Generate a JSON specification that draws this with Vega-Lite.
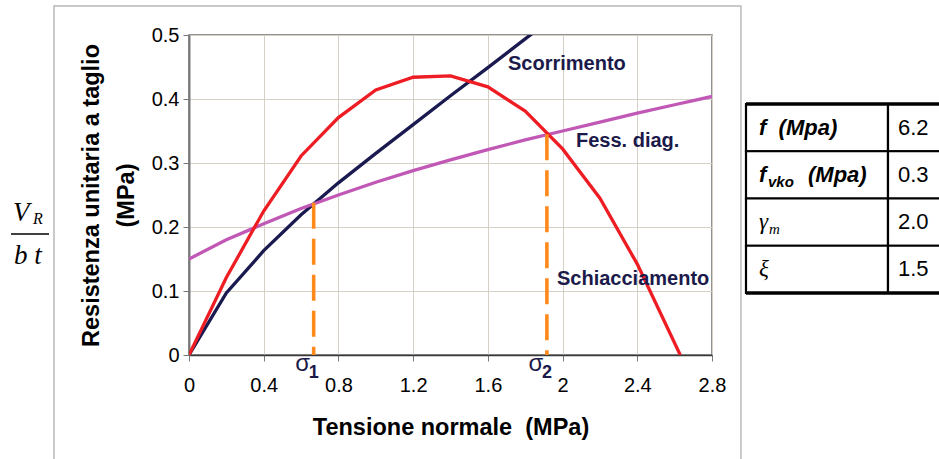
{
  "$schema": "https://vega.github.io/schema/vega-lite/v6.json",
  "background": "white",
  "padding": {"left": 9, "top": 4, "right": 0, "bottom": 0},
  "autosize": {"type": "pad"},
  "config": {"font": "Liberation Sans", "view": {"stroke": null}},
  "bounds": "flush",
  "spacing": 34,
  "hconcat": [
    {
      "width": 523,
      "height": 320,
      "view": {"stroke": "#6e6e6e", "strokeWidth": 1.5},
      "layer": [
        {
          "data": {"values": [
            {"s": "Scorrimento", "x": 0, "y": 0},
            {"s": "Scorrimento", "x": 0.2, "y": 0.097},
            {"s": "Scorrimento", "x": 0.4, "y": 0.163},
            {"s": "Scorrimento", "x": 0.6, "y": 0.219},
            {"s": "Scorrimento", "x": 0.8, "y": 0.269},
            {"s": "Scorrimento", "x": 1.0, "y": 0.315},
            {"s": "Scorrimento", "x": 1.2, "y": 0.36},
            {"s": "Scorrimento", "x": 1.4, "y": 0.405},
            {"s": "Scorrimento", "x": 1.6, "y": 0.449},
            {"s": "Scorrimento", "x": 1.8, "y": 0.494},
            {"s": "Scorrimento", "x": 2.0, "y": 0.538},
            {"s": "Fess. diag.", "x": 0, "y": 0.15},
            {"s": "Fess. diag.", "x": 0.2, "y": 0.18},
            {"s": "Fess. diag.", "x": 0.4, "y": 0.205},
            {"s": "Fess. diag.", "x": 0.6, "y": 0.229},
            {"s": "Fess. diag.", "x": 0.8, "y": 0.25},
            {"s": "Fess. diag.", "x": 1.0, "y": 0.27},
            {"s": "Fess. diag.", "x": 1.2, "y": 0.288},
            {"s": "Fess. diag.", "x": 1.4, "y": 0.305},
            {"s": "Fess. diag.", "x": 1.6, "y": 0.321},
            {"s": "Fess. diag.", "x": 1.8, "y": 0.336},
            {"s": "Fess. diag.", "x": 2.0, "y": 0.35},
            {"s": "Fess. diag.", "x": 2.2, "y": 0.364},
            {"s": "Fess. diag.", "x": 2.4, "y": 0.378},
            {"s": "Fess. diag.", "x": 2.6, "y": 0.391},
            {"s": "Fess. diag.", "x": 2.8, "y": 0.404},
            {"s": "Schiacciamento", "x": 0, "y": 0},
            {"s": "Schiacciamento", "x": 0.2, "y": 0.121},
            {"s": "Schiacciamento", "x": 0.4, "y": 0.225},
            {"s": "Schiacciamento", "x": 0.6, "y": 0.311},
            {"s": "Schiacciamento", "x": 0.8, "y": 0.371},
            {"s": "Schiacciamento", "x": 1.0, "y": 0.414},
            {"s": "Schiacciamento", "x": 1.2, "y": 0.434},
            {"s": "Schiacciamento", "x": 1.4, "y": 0.436},
            {"s": "Schiacciamento", "x": 1.6, "y": 0.419},
            {"s": "Schiacciamento", "x": 1.8, "y": 0.381},
            {"s": "Schiacciamento", "x": 2.0, "y": 0.322},
            {"s": "Schiacciamento", "x": 2.2, "y": 0.245},
            {"s": "Schiacciamento", "x": 2.4, "y": 0.142},
            {"s": "Schiacciamento", "x": 2.63, "y": 0}
          ]},
          "mark": {"type": "line", "strokeWidth": 3.3, "clip": true},
          "encoding": {
            "x": {
              "field": "x", "type": "quantitative",
              "scale": {"domain": [0, 2.8], "nice": false, "zero": false},
              "axis": {
                "title": "Tensione normale\u00a0 (MPa)",
                "values": [0, 0.4, 0.8, 1.2, 1.6, 2, 2.4, 2.8],
                "format": "~g",
                "grid": true, "gridColor": "#d5cfc6", "gridWidth": 1,
                "tickSize": 6, "tickColor": "#7a7a7a", "tickWidth": 1,
                "domainColor": "#3a3a3a", "domainWidth": 1.5,
                "labelFontSize": 20, "labelColor": "#000", "labelPadding": 14,
                "labelFlush": false, "labelOverlap": false,
                "titleFontSize": 23.5, "titleFontWeight": "bold", "titleColor": "#000", "titlePadding": 20
              }
            },
            "y": {
              "field": "y", "type": "quantitative",
              "scale": {"domain": [0, 0.5], "nice": false, "zero": false},
              "axis": {
                "title": ["Resistenza unitaria a taglio", "(MPa)"],
                "values": [0, 0.1, 0.2, 0.3, 0.4, 0.5],
                "format": "~g",
                "grid": true, "gridColor": "#d5cfc6", "gridWidth": 1,
                "tickSize": 6, "tickColor": "#7a7a7a", "tickWidth": 1,
                "domainColor": "#7a7a7a", "domainWidth": 2,
                "labelFontSize": 20, "labelColor": "#000", "labelPadding": 4,
                "labelFlush": false, "labelOverlap": false,
                "titleFontSize": 23.5, "titleFontWeight": "bold", "titleColor": "#000",
                "titlePadding": 13, "titleLineHeight": 35
              }
            },
            "color": {
              "field": "s", "type": "nominal",
              "scale": {"domain": ["Scorrimento", "Fess. diag.", "Schiacciamento"], "range": ["#1b1a50", "#c158b6", "#ee1d24"]},
              "legend": null
            }
          }
        },
        {
          "data": {"values": [{}]},
          "mark": {"type": "rect", "fill": "transparent", "stroke": "#b8b8b8", "strokeWidth": 1.5},
          "encoding": {
            "x": {"datum": -0.7227, "type": "quantitative"},
            "x2": {"datum": 2.955},
            "y": {"datum": 0.5453, "type": "quantitative"},
            "y2": {"datum": -0.2}
          }
        },
        {
          "data": {"values": [{}]},
          "mark": {"type": "text", "text": "V", "font": "Liberation Serif", "fontStyle": "italic", "fontSize": 27, "align": "left", "baseline": "alphabetic", "color": "#000"},
          "encoding": {
            "x": {"datum": -0.9422, "type": "quantitative"},
            "y": {"datum": 0.2094, "type": "quantitative"}
          }
        },
        {
          "data": {"values": [{}]},
          "mark": {"type": "text", "text": "R", "font": "Liberation Serif", "fontStyle": "italic", "fontSize": 16, "align": "left", "baseline": "alphabetic", "color": "#000"},
          "encoding": {
            "x": {"datum": -0.8351, "type": "quantitative"},
            "y": {"datum": 0.2047, "type": "quantitative"}
          }
        },
        {
          "data": {"values": [{}]},
          "mark": {"type": "text", "text": "b t", "font": "Liberation Serif", "fontStyle": "italic", "fontSize": 27, "align": "left", "baseline": "alphabetic", "color": "#000"},
          "encoding": {
            "x": {"datum": -0.9368, "type": "quantitative"},
            "y": {"datum": 0.1422, "type": "quantitative"}
          }
        },
        {
          "data": {"values": [{}]},
          "mark": {"type": "rule", "color": "#000", "strokeWidth": 1.5},
          "encoding": {
            "x": {"datum": -0.9529, "type": "quantitative"},
            "x2": {"datum": -0.7495},
            "y": {"datum": 0.189, "type": "quantitative"}
          }
        },
        {
          "data": {"values": [
            {"x": 0.6675, "y": 0.238, "sub": "1"},
            {"x": 1.916, "y": 0.345, "sub": "2"}
          ]},
          "layer": [
            {
              "mark": {"type": "rule", "color": "#ff8a1c", "strokeWidth": 3.6, "strokeDash": [26, 10], "strokeCap": "butt"},
              "encoding": {
                "x": {"field": "x", "type": "quantitative"},
                "y": {"field": "y", "type": "quantitative"},
                "y2": {"datum": 0}
              }
            },
            {
              "mark": {"type": "text", "text": "σ", "fontSize": 24, "align": "center", "baseline": "alphabetic", "dx": -11, "dy": 16, "color": "#1b1a4a"},
              "encoding": {
                "x": {"field": "x", "type": "quantitative"},
                "y": {"datum": 0, "type": "quantitative"}
              }
            },
            {
              "mark": {"type": "text", "fontSize": 18, "fontWeight": "bold", "align": "center", "baseline": "alphabetic", "dx": 0, "dy": 23, "color": "#1b1a4a"},
              "encoding": {
                "x": {"field": "x", "type": "quantitative"},
                "y": {"datum": 0, "type": "quantitative"},
                "text": {"field": "sub"}
              }
            }
          ]
        },
        {
          "data": {"values": [
            {"t": "Scorrimento", "x": 1.708, "y": 0.455},
            {"t": "Fess. diag.", "x": 2.072, "y": 0.334},
            {"t": "Schiacciamento", "x": 1.97, "y": 0.119}
          ]},
          "mark": {"type": "text", "align": "left", "baseline": "middle", "fontSize": 20, "fontWeight": "bold", "color": "#1b1a4a"},
          "encoding": {
            "x": {"field": "x", "type": "quantitative"},
            "y": {"field": "y", "type": "quantitative"},
            "text": {"field": "t"}
          }
        }
      ]
    },
    {
      "bounds": "flush",
      "spacing": 0,
      "hconcat": [
        {
          "width": 142,
          "height": 320,
          "view": {"stroke": null},
          "data": {"values": [
            {"row": 0, "label": "f\u00a0 (Mpa)"},
            {"row": 1, "label": "f", "sub": "vko", "rest": "(Mpa)"},
            {"row": 2, "label": "γ", "sub": "m"},
            {"row": 3, "label": "ξ"}
          ]},
          "encoding": {
            "y": {"field": "row", "type": "ordinal", "scale": {"domain": [-1, 0, 1, 2, 3, 4], "paddingInner": 0, "paddingOuter": 0.386, "align": 0.596}, "axis": null}
          },
          "layer": [
            {"mark": {"type": "rect", "fill": "white", "stroke": "#000", "strokeWidth": 2.2}},
            {
              "transform": [{"filter": "datum.row == 0"}],
              "mark": {"type": "rule", "color": "#000", "strokeWidth": 3.5},
              "encoding": {"y": {"field": "row", "type": "ordinal", "bandPosition": 0, "axis": null}}
            },
            {
              "transform": [{"filter": "datum.row == 3"}],
              "mark": {"type": "rule", "color": "#000", "strokeWidth": 3.5},
              "encoding": {"y": {"field": "row", "type": "ordinal", "bandPosition": 1, "axis": null}}
            },
            {
              "transform": [{"filter": "datum.row <= 1"}],
              "mark": {"type": "text", "align": "left", "baseline": "middle", "fontSize": 22, "fontStyle": "italic", "fontWeight": "bold", "dx": -58, "color": "#000"},
              "encoding": {"text": {"field": "label"}}
            },
            {
              "transform": [{"filter": "datum.row == 1"}],
              "mark": {"type": "text", "align": "left", "baseline": "middle", "fontSize": 15, "fontStyle": "italic", "fontWeight": "bold", "dx": -49, "dy": 7, "color": "#000"},
              "encoding": {"text": {"field": "sub"}}
            },
            {
              "transform": [{"filter": "datum.row == 1"}],
              "mark": {"type": "text", "align": "left", "baseline": "middle", "fontSize": 22, "fontStyle": "italic", "fontWeight": "bold", "dx": -9, "color": "#000"},
              "encoding": {"text": {"field": "rest"}}
            },
            {
              "transform": [{"filter": "datum.row >= 2"}],
              "mark": {"type": "text", "align": "left", "baseline": "middle", "font": "Liberation Serif", "fontSize": 23, "fontStyle": "italic", "dx": -58, "color": "#000"},
              "encoding": {"text": {"field": "label"}}
            },
            {
              "transform": [{"filter": "datum.row == 2"}],
              "mark": {"type": "text", "align": "left", "baseline": "middle", "font": "Liberation Serif", "fontSize": 15, "fontStyle": "italic", "dx": -48, "dy": 7, "color": "#000"},
              "encoding": {"text": {"field": "sub"}}
            }
          ]
        },
        {
          "width": 58,
          "height": 320,
          "view": {"stroke": null},
          "data": {"values": [
            {"row": 0, "value": "6.2"},
            {"row": 1, "value": "0.3"},
            {"row": 2, "value": "2.0"},
            {"row": 3, "value": "1.5"}
          ]},
          "encoding": {
            "y": {"field": "row", "type": "ordinal", "scale": {"domain": [-1, 0, 1, 2, 3, 4], "paddingInner": 0, "paddingOuter": 0.386, "align": 0.596}, "axis": null}
          },
          "layer": [
            {"mark": {"type": "rect", "fill": "white", "stroke": "#000", "strokeWidth": 2.2}},
            {
              "transform": [{"filter": "datum.row == 0"}],
              "mark": {"type": "rule", "color": "#000", "strokeWidth": 3.5},
              "encoding": {"y": {"field": "row", "type": "ordinal", "bandPosition": 0, "axis": null}}
            },
            {
              "transform": [{"filter": "datum.row == 3"}],
              "mark": {"type": "rule", "color": "#000", "strokeWidth": 3.5},
              "encoding": {"y": {"field": "row", "type": "ordinal", "bandPosition": 1, "axis": null}}
            },
            {
              "mark": {"type": "text", "align": "left", "baseline": "middle", "fontSize": 22, "dx": -19, "color": "#000"},
              "encoding": {"text": {"field": "value"}}
            }
          ]
        }
      ]
    }
  ]
}
